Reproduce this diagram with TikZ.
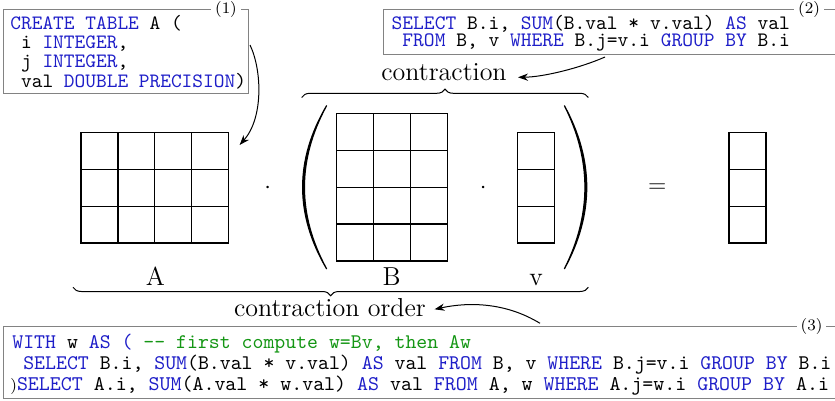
\documentclass[tikz,border=0pt]{standalone}
\usetikzlibrary{decorations.pathreplacing,arrows.meta}
\definecolor{kwblue}{RGB}{30,30,200}
\definecolor{cmgreen}{RGB}{20,150,20}
\definecolor{boxgray}{RGB}{130,130,130}
\newcommand{\sqlkw}[1]{\textcolor{kwblue}{#1}}
\newcommand{\sqlcm}[1]{\textcolor{cmgreen}{#1}}
\begin{document}
\begin{tikzpicture}[x=0.5pt,y=-0.5pt,
  codebox/.style={draw=boxgray, line width=0.5pt, rectangle, inner sep=0, outer sep=0, anchor=north west},
  code/.style={inner sep=0, anchor=base west, font=\ttfamily\fontsize{10.2}{12}\selectfont},
  tag/.style={fill=white, inner sep=2pt, font=\fontsize{8}{9}\selectfont},
  lbl/.style={inner sep=0, anchor=base, font=\fontsize{13}{15}\selectfont},
  cellbox/.style={draw, line width=0.6pt, rectangle, inner sep=0, outer sep=0, anchor=north west},
  gridline/.style={line width=0.6pt},
  arr/.style={-{Stealth[length=5pt,width=3.6pt]}, line width=0.5pt},
  brc/.style={decorate, decoration={brace, amplitude=4.2pt}, line width=0.5pt},
  paren/.style={fill=black, draw=black, line width=0.6pt}
]
\useasboundingbox (0,0) rectangle (835,401);

% code boxes
\node[codebox, minimum width=122.5pt, minimum height=42.35pt] (box1) at (3,9.3) {};
\node[codebox, minimum width=228.5pt, minimum height=22.5pt] (box2) at (383,10) {};
\node[codebox, minimum width=418.5pt, minimum height=36pt] (box3) at (3,326.5) {};
\node[tag] (t1) at (226,9.3) {(1)};
\node[tag] (t2) at (809,10) {(2)};
\node[tag] (t3) at (811.5,326.5) {(3)};

% box 1 text
\node[code] (b1a) at (10,29.3) {\sqlkw{CREATE TABLE} A (};
\node[code] (b1b) at (10,48.7) {\ i \sqlkw{INTEGER},};
\node[code] (b1c) at (10,67.7) {\ j \sqlkw{INTEGER},};
\node[code] (b1d) at (10,87.3) {\ val \sqlkw{DOUBLE PRECISION})};

% box 2 text
\node[code, font=\ttfamily\fontsize{10.25}{12}\selectfont] (b2a) at (391.3,29.3) {\sqlkw{SELECT} B.i, \sqlkw{SUM}(B.val * v.val) \sqlkw{AS} val};
\node[code, font=\ttfamily\fontsize{10.25}{12}\selectfont] (b2b) at (391.3,47) {\ \sqlkw{FROM} B, v \sqlkw{WHERE} B.j=v.i \sqlkw{GROUP BY} B.i};

% box 3 text
\node[code, font=\ttfamily\fontsize{10.4}{12}\selectfont] (b3a) at (12,348.3) {\sqlkw{WITH} w \sqlkw{AS (} \sqlcm{-\kern0pt- first compute w=Bv, then Aw}};
\node[code, font=\ttfamily\fontsize{10.4}{12}\selectfont] (b3b) at (12,369.5) {\ \sqlkw{SELECT} B.i, \sqlkw{SUM}(B.val * v.val) \sqlkw{AS} val \sqlkw{FROM} B, v \sqlkw{WHERE} B.j=v.i \sqlkw{GROUP BY} B.i};
\node[code, font=\ttfamily\fontsize{10.45}{12}\selectfont] (b3c) at (10,390) {{\rmfamily\fontsize{8}{9}\selectfont)}\sqlkw{SELECT} A.i, \sqlkw{SUM}(A.val * w.val) \sqlkw{AS} val \sqlkw{FROM} A, w \sqlkw{WHERE} A.j=w.i \sqlkw{GROUP BY} A.i};

% matrix A (4 x 3)
\node[cellbox, minimum width=73.8pt, minimum height=55.35pt] (matA) at (81,132.3) {};
\foreach \c in {1,2,3} \draw[gridline] ({81+\c*36.9},132.3) -- ++(0,110.7);
\foreach \r in {1,2} \draw[gridline] (81,{132.3+\r*36.9}) -- ++(147.6,0);

% matrix B (3 x 4)
\node[cellbox, minimum width=55.35pt, minimum height=73.8pt] (matB) at (336.7,113.3) {};
\foreach \c in {1,2} \draw[gridline] ({336.7+\c*36.9},113.3) -- ++(0,147.6);
\foreach \r in {1,2,3} \draw[gridline] (336.7,{113.3+\r*36.9}) -- ++(110.7,0);

% vector v
\node[cellbox, minimum width=18.45pt, minimum height=55.35pt] (vecv) at (517.3,132.3) {};
\foreach \r in {1,2} \draw[gridline] (517.3,{132.3+\r*36.9}) -- ++(36.9,0);

% result vector
\node[cellbox, minimum width=18.45pt, minimum height=55.35pt] (vecr) at (729,132.3) {};
\foreach \r in {1,2} \draw[gridline] (729,{132.3+\r*36.9}) -- ++(36.9,0);

% operators
\node[lbl] (dot1) at (267.7,193.2) {$\cdot$};
\node[lbl] (dot2) at (483.3,193.2) {$\cdot$};
\node[lbl] (eq) at (657.3,192.2) {$=$};

% parentheses
\fill[paren] (326.7,105.5) .. controls (294.6,160) and (294.6,214.5) .. (326.7,269)
  .. controls (297.0,214.5) and (297.0,160) .. (326.7,105.5) -- cycle;
\fill[paren] (564.3,105.5) .. controls (594.2,160) and (594.2,214.5) .. (564.3,269)
  .. controls (591.8,214.5) and (591.8,160) .. (564.3,105.5) -- cycle;

% labels
\node[lbl] (la) at (155.5,285) {A};
\node[lbl] (lb) at (391.7,285) {B};
\node[lbl] (lv) at (536,285) {v};
\node[lbl] (ctr) at (444,80.7) {contraction};
\node[lbl] (ctrord) at (330,316) {contraction order};

% braces
\draw[brc] (301.7,97.5) -- (588.3,97.5);
\draw[brc] (588.3,287.3) -- (73,287.3);

% arrows
\draw[arr] ([shift={(2,-6.65)}]box1.east) .. controls +(12,25) and +(24,-27) .. ([shift={(11,12.7)}]matA.north east);
\draw[arr] ([shift={(-6.5,2)}]box2.south) .. controls +(-25,11) and +(25.7,-0.3) .. ([shift={(11,-3.4)}]ctr.base east);
\draw[arr] ([shift={(537,-3.2)}]box3.north west) .. controls +(-35,-21.3) and +(33.3,-7.3) .. ([shift={(8.3,-6.7)}]ctrord.base east);
\end{tikzpicture}
\end{document}
